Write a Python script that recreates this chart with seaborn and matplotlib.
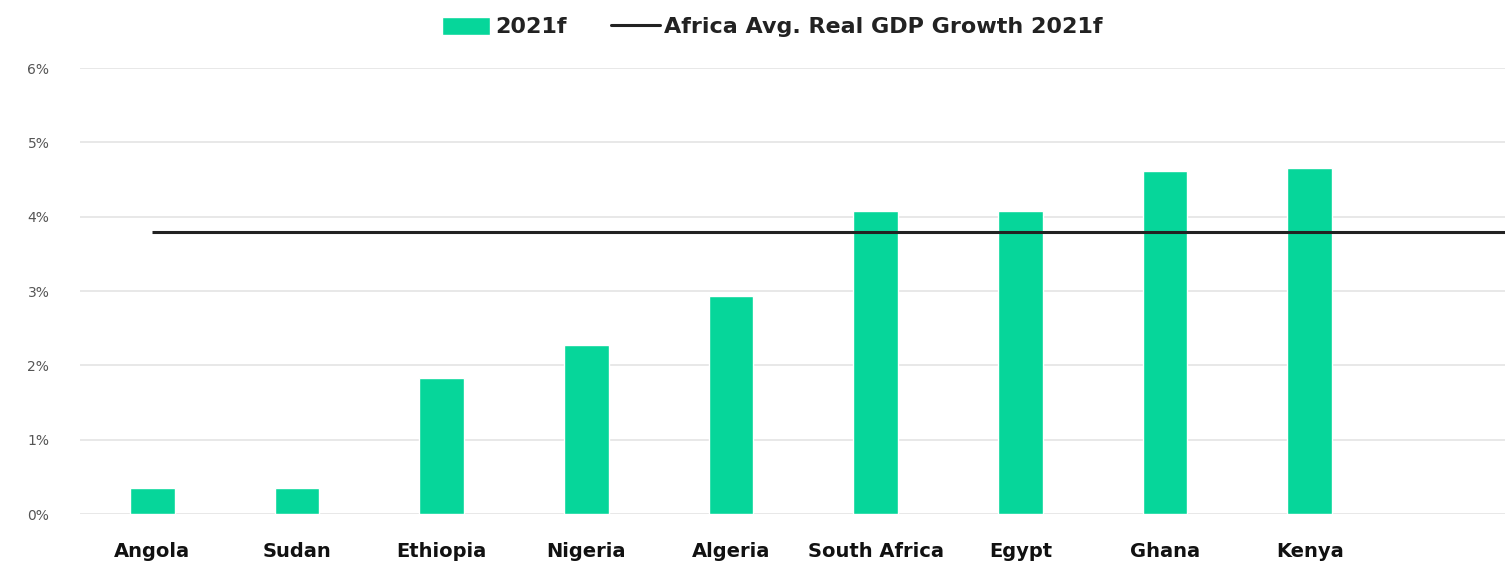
import matplotlib
matplotlib.use("Agg")
from matplotlib import pyplot as plt
from matplotlib.patches import Patch
from matplotlib.lines import Line2D
import pandas as pd
import seaborn as sns

# Daten
countries = ["Angola", "Sudan", "Ethiopia", "Nigeria", "Algeria",
             "South Africa", "Egypt", "Ghana", "Kenya"]
growth_2021f = [0.35, 0.35, 1.83, 2.27, 2.93, 4.08, 4.08, 4.62, 4.66]
africa_avg = [3.8]
y_ticks = [0, 1, 2, 3, 4, 5, 6]
y_tick_labels = ["0%", "1%", "2%", "3%", "4%", "5%", "6%"]

bar_color = "#06D69A"

df = pd.DataFrame({"country": countries, "growth": growth_2021f})

sns.set_style("white")
plt.rcParams["font.family"] = ["DejaVu Sans"]

fig = plt.figure(figsize=(15.08, 5.63), dpi=100)
ax = fig.add_axes([0.053, 0.087, 0.945, 0.792])

sns.barplot(data=df, x="country", y="growth", color=bar_color,
            width=0.31, saturation=1, ax=ax, zorder=3)

# Durchschnittslinie
x_right = 9.35
ax.hlines(africa_avg[0], 0, x_right, color="#222222", linewidth=2.2, zorder=4)

ax.set_xlim(-0.5, x_right)
ax.set_ylim(0, 6)
ax.set_yticks(y_ticks)
ax.set_yticklabels(y_tick_labels, color="#555555", fontsize=10)
ax.yaxis.grid(True, color="#e4e4e4", linewidth=1.2, zorder=0)
ax.set_axisbelow(True)
ax.set_xlabel("")
ax.set_ylabel("")
ax.tick_params(axis="x", labelsize=14, pad=20, length=0)
ax.tick_params(axis="y", pad=22, length=0)
for lbl in ax.get_xticklabels():
    lbl.set_fontweight("bold")
    lbl.set_color("#111111")
sns.despine(ax=ax, left=True, bottom=True)

handles = [Patch(facecolor=bar_color, label="2021f"),
           Line2D([0], [0], color="#222222", linewidth=2.2,
                  label="Africa Avg. Real GDP Growth 2021f")]
leg = fig.legend(handles=handles, loc="center", bbox_to_anchor=(0.512, 0.952),
                 ncol=2, frameon=False, fontsize=16, handlelength=2.2,
                 handleheight=0.9, handletextpad=0.2, columnspacing=2.0)
for t in leg.get_texts():
    t.set_fontweight("bold")
    t.set_color("#222222")

fig.savefig("out.png", dpi=100)
